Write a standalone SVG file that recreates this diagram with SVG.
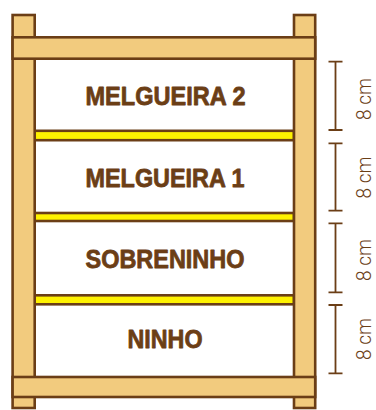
<svg xmlns="http://www.w3.org/2000/svg" width="376" height="410" viewBox="0 0 376 410">
<style>
.wood{fill:#F2CB7E;stroke:#6B3E16;stroke-width:2.6}
.shelf{fill:#FFF200;stroke:#6B3E16;stroke-width:2.6}
.lbl{font-family:"Liberation Sans",Arial,sans-serif;font-weight:bold;font-size:26px;fill:#6B3E16;stroke:#6B3E16;stroke-width:0.8;stroke-linejoin:round;text-anchor:middle}
.dim{stroke:#6B3E16;stroke-width:1.8;fill:none}
.dimt{font-family:Roboto,"Liberation Sans",sans-serif;font-weight:300;font-size:21px;fill:#6B3E16;text-anchor:middle}
</style>
<rect width="376" height="410" fill="#fff"/>
<g id="shelves">
<rect class="shelf" x="34.7" y="130.8" width="259.3" height="9.4"/>
<rect class="shelf" x="34.7" y="213" width="259.3" height="8"/>
<rect class="shelf" x="34.7" y="295.3" width="259.3" height="9"/>
</g>
<g id="frame">
<rect class="wood" x="12.6" y="15" width="22.1" height="393"/>
<rect class="wood" x="294" y="15" width="21.2" height="393"/>
<rect class="wood" x="12.6" y="37.3" width="302.6" height="21.4"/>
<rect class="wood" x="12.6" y="377" width="302.6" height="20"/>
</g>
<g id="melgueira2"><text class="lbl" x="165.5" y="105" textLength="160" lengthAdjust="spacingAndGlyphs">MELGUEIRA 2</text></g>
<g id="melgueira1"><text class="lbl" x="165" y="186.7" textLength="159" lengthAdjust="spacingAndGlyphs">MELGUEIRA 1</text></g>
<g id="sobreninho"><text class="lbl" x="165" y="267.7" textLength="159" lengthAdjust="spacingAndGlyphs">SOBRENINHO</text></g>
<g id="ninho"><text class="lbl" x="165" y="347.7" textLength="75" lengthAdjust="spacingAndGlyphs">NINHO</text></g>
<g id="dimensions">
<path class="dim" d="M335.5 61.7V130M328.5 61.7H342.5M328.5 130H342.5"/>
<path class="dim" d="M335.5 143.3V210.7M328.5 143.3H342.5M328.5 210.7H342.5"/>
<path class="dim" d="M335.5 223.3V292.3M328.5 223.3H342.5M328.5 292.3H342.5"/>
<path class="dim" d="M335.5 305V373.3M328.5 305H342.5M328.5 373.3H342.5"/>
<text class="dimt" transform="translate(371 99) rotate(-90)" textLength="42" lengthAdjust="spacingAndGlyphs">8 cm</text>
<text class="dimt" transform="translate(371 177.5) rotate(-90)" textLength="42" lengthAdjust="spacingAndGlyphs">8 cm</text>
<text class="dimt" transform="translate(371 260) rotate(-90)" textLength="42" lengthAdjust="spacingAndGlyphs">8 cm</text>
<text class="dimt" transform="translate(371 339) rotate(-90)" textLength="42" lengthAdjust="spacingAndGlyphs">8 cm</text>
</g>
</svg>
